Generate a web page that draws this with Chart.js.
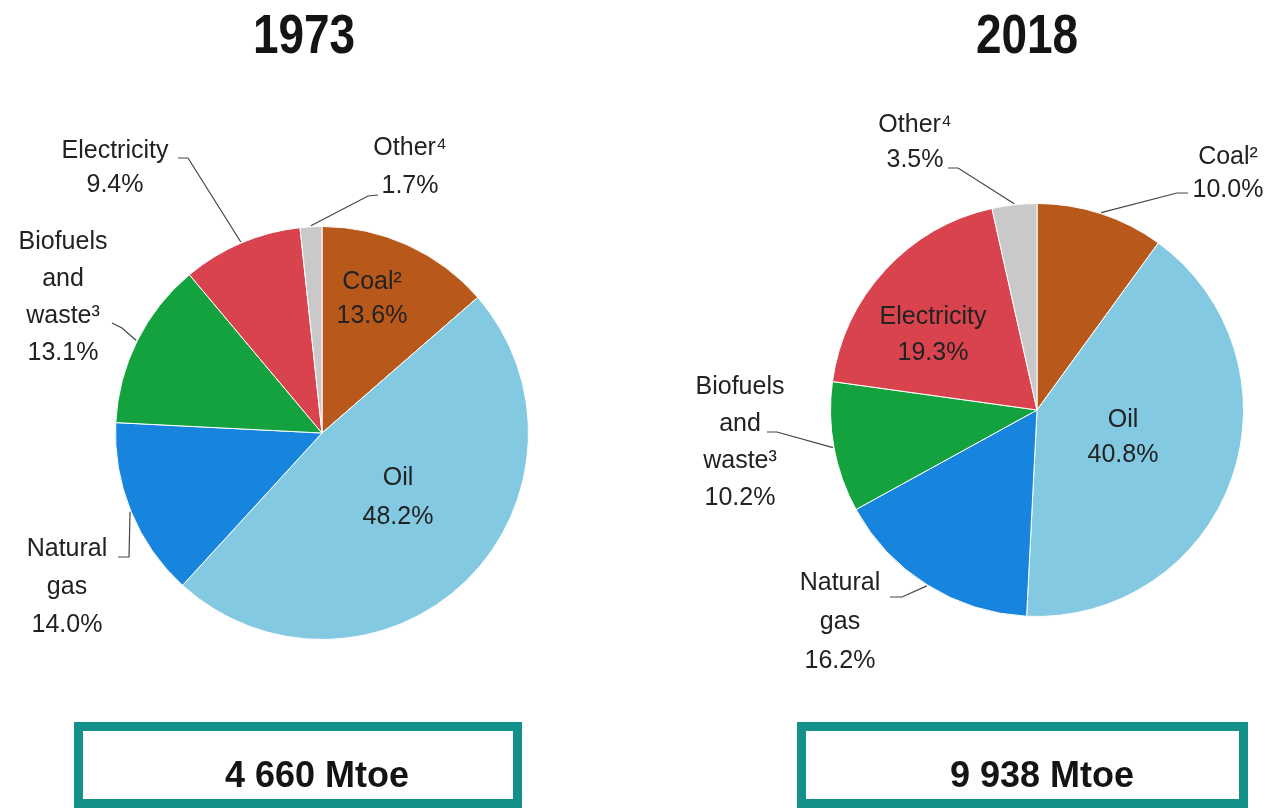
<!DOCTYPE html>
<html>
<head>
<meta charset="utf-8">
<script src="https://cdn.jsdelivr.net/npm/chart.js@4.4.1/dist/chart.umd.min.js"></script>
<style>
  html, body { margin: 0; padding: 0; background: #fff; }
  body { width: 1272px; height: 808px; position: relative; overflow: hidden; font-family: "Liberation Sans", Arial, sans-serif; }
  canvas { position: absolute; top: 0; }
  .year { position: absolute; top: 6px; width: 200px; text-align: center; font-size: 56px; font-weight: bold; line-height: 56px; color: #141414; transform: scaleX(0.82); }
  .total { position: absolute; top: 722px; height: 86px; box-sizing: border-box; border: 9px solid #14908a; text-align: center; font-size: 36px; font-weight: bold; line-height: 36px; padding-top: 26px; color: #141414; }
</style>
</head>
<body>
<div class="year" style="left:204px">1973</div>
<div class="year" style="left:927px">2018</div>
<canvas id="pie1973" width="636" height="808" style="left:0"></canvas>
<canvas id="pie2018" width="636" height="808" style="left:636px"></canvas>
<div class="total" style="left:74px;width:448px;padding-left:38px">4 660 Mtoe</div>
<div class="total" style="left:797px;width:451px;padding-left:39px">9 938 Mtoe</div>
<script>
// data (clockwise from 12 o'clock)
const categories = ['Coal²', 'Oil', 'Natural gas', 'Biofuels and waste³', 'Electricity', 'Other⁴'];
const labelLines = [['Coal²'], ['Oil'], ['Natural', 'gas'], ['Biofuels', 'and', 'waste³'], ['Electricity'], ['Other⁴']];
const shares1973 = [13.6, 48.2, 14.0, 13.1, 9.4, 1.7];
const shares2018 = [10.0, 40.8, 16.2, 10.2, 19.3, 3.5];
const colors = ['#b8581b', '#84c9e2', '#1784dd', '#13a23e', '#d8434e', '#c9c9c9'];

// label placement, offsets from the pie centre: t = first text line, lead = leader start + elbow
const place1973 = [
  { t: [50, -151], lh: 34 },
  { t: [76, 45], lh: 39 },
  { t: [-255, 116], lh: 38, lead: [[-204, 124], [-193, 124]] },
  { t: [-259, -191], lh: 37, lead: [[-210, -110], [-200, -105]] },
  { t: [-207, -282], lh: 34, lead: [[-144, -275], [-134, -275]] },
  { t: [88, -285], lh: 38, lead: [[56, -238], [46, -237]] }
];
const place2018 = [
  { t: [191, -253], lh: 33, lead: [[151, -217], [140, -217]] },
  { t: [86, 10], lh: 35 },
  { t: [-197, 173], lh: 39, lead: [[-147, 187], [-135, 187]] },
  { t: [-297, -23], lh: 37, lead: [[-270, 22], [-260, 22]] },
  { t: [-104, -93], lh: 36 },
  { t: [-122, -285], lh: 35, lead: [[-89, -242], [-79, -242]] }
];

const sliceLabels = {
  id: 'sliceLabels',
  afterDatasetsDraw(chart, args, opts) {
    const ctx = chart.ctx;
    const meta = chart.getDatasetMeta(0);
    const values = chart.data.datasets[0].data;
    ctx.save();
    ctx.font = '25px "Liberation Sans", Arial, sans-serif';
    ctx.fillStyle = '#222';
    ctx.textAlign = 'center';
    ctx.textBaseline = 'middle';
    ctx.strokeStyle = '#444';
    ctx.lineWidth = 1.2;
    meta.data.forEach((arc, i) => {
      const p = arc.getProps(['x', 'y', 'startAngle', 'endAngle', 'outerRadius'], true);
      const mid = (p.startAngle + p.endAngle) / 2;
      const pl = opts.place[i];
      const lines = labelLines[i].concat([values[i].toFixed(1) + '%']);
      lines.forEach((s, j) => {
        ctx.fillText(s, p.x + pl.t[0], p.y + pl.t[1] + j * pl.lh);
      });
      if (pl.lead) {
        ctx.beginPath();
        ctx.moveTo(p.x + pl.lead[0][0], p.y + pl.lead[0][1]);
        ctx.lineTo(p.x + pl.lead[1][0], p.y + pl.lead[1][1]);
        ctx.lineTo(p.x + Math.cos(mid) * (p.outerRadius + 1), p.y + Math.sin(mid) * (p.outerRadius + 1));
        ctx.stroke();
      }
    });
    ctx.restore();
  }
};

function makePie(id, values, padding, place) {
  const ctx = document.getElementById(id).getContext('2d');
  return new Chart(ctx, {
    type: 'pie',
    data: {
      labels: categories,
      datasets: [{
        data: values,
        backgroundColor: colors,
        borderColor: '#fff',
        borderWidth: 1
      }]
    },
    options: {
      responsive: false,
      animation: false,
      layout: { padding: padding },
      plugins: {
        legend: { display: false },
        tooltip: { enabled: false },
        sliceLabels: { place: place }
      }
    },
    plugins: [sliceLabels]
  });
}

makePie('pie1973', shares1973, { left: 115, right: 107, top: 226, bottom: 168 }, place1973);
makePie('pie2018', shares2018, { left: 194, right: 28, top: 203, bottom: 191 }, place2018);
</script>
</body>
</html>
